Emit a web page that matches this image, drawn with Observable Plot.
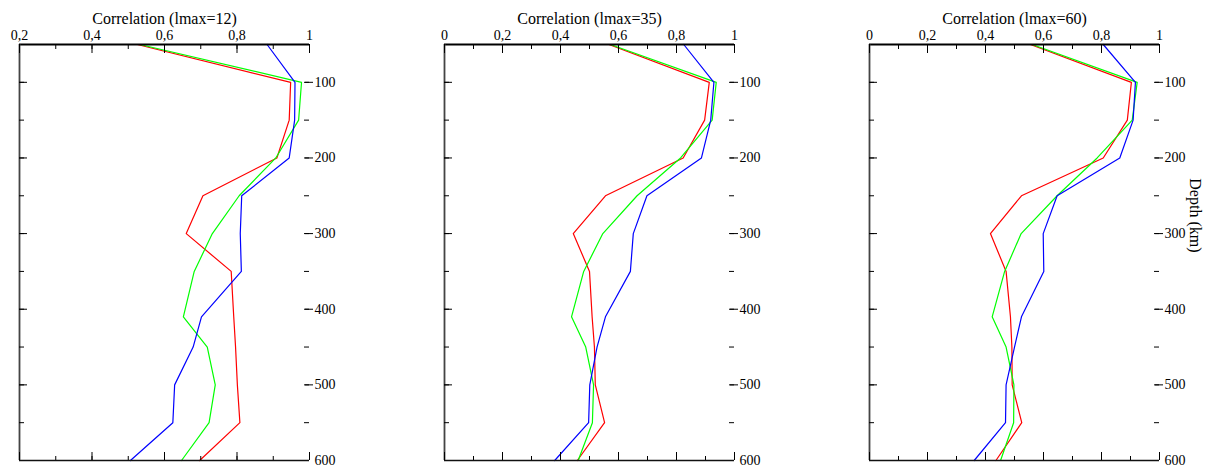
<!DOCTYPE html>
<html><head><meta charset="utf-8">
<script src="https://cdn.jsdelivr.net/npm/d3@7"></script>
<script src="https://cdn.jsdelivr.net/npm/@observablehq/plot@0.6"></script>
<style>
body{margin:0;background:#fff;}
#wrap{position:relative;width:1213px;height:468px;overflow:hidden;}
#wrap svg{position:absolute;top:0;}
</style></head>
<body><div id="wrap"></div>
<script>
const depths = [50,100,150,200,250,300,350,410,450,500,550,600];
const depthTicks = [100,200,300,400,500,600];
const depthMinor = [100,150,200,250,300,350,400,450,500,550];
const panelTitles = ["Correlation (lmax=12)","Correlation (lmax=35)","Correlation (lmax=60)"];
const panelXMin = [0.2, 0, 0];
const red12   = [0.525,0.948,0.944,0.910,0.706,0.660,0.784,0.791,0.796,0.801,0.808,0.697];
const green12 = [0.532,0.978,0.970,0.907,0.806,0.732,0.682,0.652,0.718,0.740,0.723,0.647];
const blue12  = [0.883,0.960,0.959,0.944,0.813,0.809,0.812,0.702,0.679,0.628,0.623,0.506];
const red35   = [0.567,0.913,0.897,0.823,0.555,0.444,0.500,0.509,0.517,0.520,0.552,0.458];
const green35 = [0.572,0.937,0.923,0.814,0.664,0.546,0.480,0.438,0.487,0.514,0.510,0.461];
const blue35  = [0.825,0.929,0.918,0.886,0.698,0.651,0.641,0.555,0.526,0.501,0.497,0.380];
const red60   = [0.555,0.903,0.889,0.806,0.524,0.417,0.471,0.486,0.491,0.492,0.525,0.436];
const green60 = [0.561,0.923,0.906,0.785,0.647,0.523,0.466,0.423,0.471,0.498,0.497,0.452];
const blue60  = [0.806,0.917,0.909,0.863,0.647,0.599,0.601,0.524,0.500,0.471,0.469,0.361];
const panelSeries = [[red12,green12,blue12],[red35,green35,blue35],[red60,green60,blue60]];
const seriesColors = ["#ff0000","#00ff00","#0000ff"];

const FONT = "Liberation Serif";
const fmt = d => d === 0 ? "0" : d === 1 ? "1" : d.toFixed(1).replace(".", ",");
const lefts = [0, 425, 850];
const widths = [404, 404, 363];
const FW = 290, FH = 416;
const wrap = document.getElementById("wrap");

panelSeries.forEach((series, p) => {
  const xmin = panelXMin[p];
  const major = d3.range(Math.round(xmin*10), 11, 2).map(v => v/10);
  const minor = d3.range(Math.round(xmin*10), 11, 1).map(v => v/10);
  const marks = [];
  series.forEach((vals, s) => {
    marks.push(Plot.line(depths.map((d,i)=>({depth:d, r:vals[i]})), {x:"r", y:"depth", stroke: seriesColors[s], strokeWidth: 1.2}));
  });
  marks.push(
    Plot.ruleY([50], {stroke:"#000", strokeWidth:2.2}),
    Plot.ruleY([600], {stroke:"#111", strokeWidth:1.6}),
    Plot.ruleX([xmin], {stroke:"#444", strokeWidth:1.8}),
    Plot.tickX(minor, {x:d=>d, insetBottom: FH-5, stroke:"#000"}),
    Plot.tickX(major, {x:d=>d, insetBottom: FH-9, stroke:"#000"}),
    Plot.tickX(minor, {x:d=>d, insetTop: FH-4, stroke:"#000"}),
    Plot.tickX(major, {x:d=>d, insetTop: FH-8, stroke:"#000"}),
    Plot.tickY(depthMinor, {y:d=>d, insetRight: FW-5, stroke:"#000"}),
    Plot.tickY(depthTicks.slice(0,5), {y:d=>d, insetRight: FW-8, stroke:"#000"}),
    Plot.tickY(depthMinor, {y:d=>d, insetLeft: FW-5, stroke:"#000"}),
    Plot.tickY(depthTicks.slice(0,5), {y:d=>d, insetLeft: FW-4, insetRight: -4, stroke:"#000"}),
    Plot.axisX(major, {anchor:"top", label:null, tickSize:0, tickPadding:5, tickFormat: fmt, fontSize: 14, fontFamily: FONT, fill:"#000"}),
    Plot.axisY(depthTicks, {anchor:"right", label:null, tickSize:0, tickPadding:5, tickFormat: d=>String(d), fontSize: 14, fontFamily: FONT, fill:"#000"}),
    Plot.text([panelTitles[p]], {frameAnchor:"top", dy:-26, lineAnchor:"middle", fontSize:16, fontFamily: FONT, fill:"#000"})
  );
  if (p === 2) {
    marks.push(Plot.text(["Depth (km)"], {frameAnchor:"right", dx:36, rotate:90, lineAnchor:"middle", fontSize:16, fontFamily: FONT, fill:"#000"}));
  }
  const svg = Plot.plot({
    width: widths[p], height: 468,
    marginLeft: 19, marginRight: widths[p]-19-FW, marginTop: 44, marginBottom: 8,
    x: {domain:[xmin, 1], axis: null},
    y: {domain:[50, 600], reverse: true, axis: null},
    style: {fontFamily: FONT, fontSize: "14px", color:"#000", background:"transparent", overflow:"visible"},
    marks
  });
  svg.style.left = lefts[p] + "px";
  wrap.appendChild(svg);
});
</script></body></html>
